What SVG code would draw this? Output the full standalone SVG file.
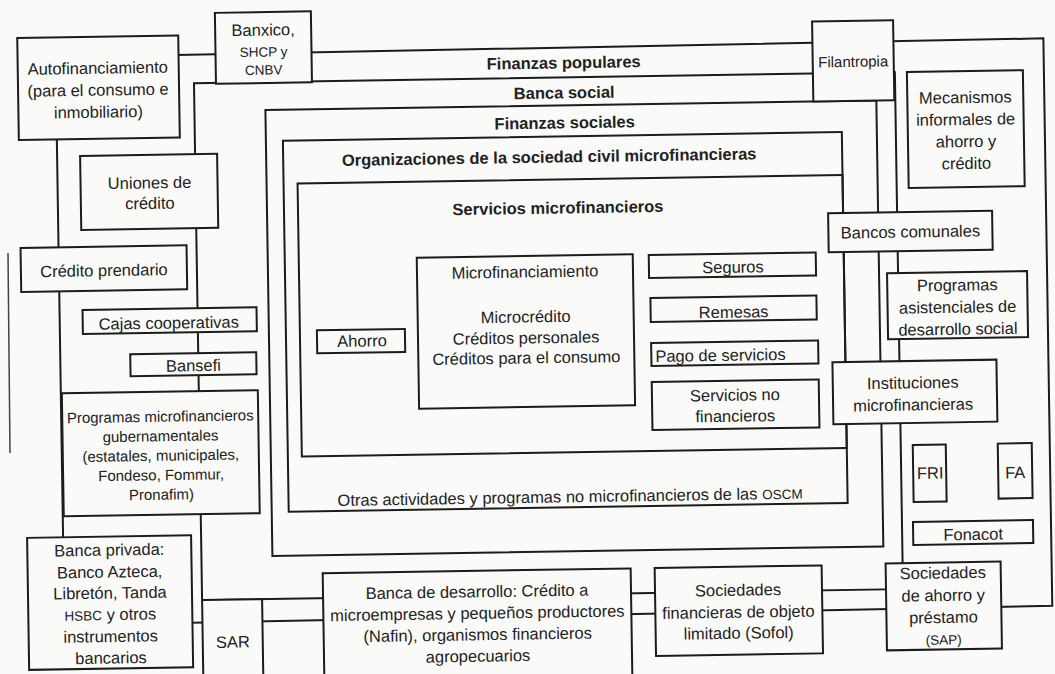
<svg xmlns="http://www.w3.org/2000/svg" width="1055" height="674" viewBox="0 0 1055 674">
<style>
.bg{fill:#fafaf8}
.box{fill:#fafaf8;stroke:#1c1c1c;stroke-width:2}
.frame{fill:none;stroke:#1c1c1c;stroke-width:2}
text{font-family:"Liberation Sans",Arial,Helvetica,sans-serif;font-size:16.5px;fill:#222;text-anchor:middle}
.b{font-weight:bold}
.sm{font-size:13.5px}
.m{font-size:15px}
.l{text-anchor:start}
</style>
<rect class="bg" width="1055" height="674"/>
<g id="scan-mark"><line x1="8" y1="253" x2="10" y2="453" stroke="#444" stroke-width="1.5"/></g>
<g transform="rotate(-0.9 527 337)">
  <g id="connectors">
    <path id="frame-finanzas-populares" class="frame" d="M60,50 L1048,46.5 L1048,614 L60,618 Z"/>
    <rect id="frame-banca-social" class="frame" x="198" y="78" width="701" height="517"/>
    <rect id="frame-finanzas-sociales" class="frame" x="269" y="106" width="611" height="446"/>
    <rect id="frame-oscm" class="frame" x="286" y="137" width="559" height="371"/>
    <rect id="frame-servicios" class="frame" x="300" y="180" width="545" height="273"/>
  </g>
  <g id="label-finanzas-populares"><text class="b" x="568" y="69">Finanzas populares</text></g>
  <g id="label-banca-social"><text class="b" x="568" y="99">Banca social</text></g>
  <g id="label-finanzas-sociales"><text class="b" x="568" y="129">Finanzas sociales</text></g>
  <g id="label-oscm"><text class="b" x="552" y="163">Organizaciones de la sociedad civil microfinancieras</text>
    <text x="567.5" y="503">Otras actividades y programas no microfinancieros de las <tspan class="sm">OSCM</tspan></text></g>
  <g id="label-servicios"><text class="b" x="560" y="214">Servicios microfinancieros</text></g>

  <g id="autofinanciamiento"><rect class="box" x="22" y="30" width="161" height="102"/>
    <text x="102" y="67">Autofinanciamiento</text><text x="102" y="89">(para el consumo e</text><text x="102" y="111">inmobiliario)</text></g>
  <g id="banxico"><rect class="box" x="220" y="8" width="96" height="71"/>
    <text x="268" y="31.5">Banxico,</text><text class="sm" x="268" y="52.5">SHCP y</text><text class="sm" x="268" y="70.5">CNBV</text></g>
  <g id="filantropia"><rect class="box" x="817" y="26" width="81" height="80"/>
    <text class="m" x="857.5" y="72">Filantropia</text></g>
  <g id="mecanismos"><rect class="box" x="911" y="78" width="116" height="116"/>
    <text x="969" y="110">Mecanismos</text><text x="969" y="132">informales de</text><text x="969" y="154">ahorro y</text><text x="969" y="176">crédito</text></g>
  <g id="uniones"><rect class="box" x="83" y="149" width="137" height="74"/>
    <text x="152" y="182.5">Uniones de</text><text x="152" y="203">crédito</text></g>
  <g id="bancos-comunales"><rect class="box" x="830" y="218" width="164" height="39"/>
    <text x="912" y="243.5">Bancos comunales</text></g>
  <g id="credito-prendario"><rect class="box" x="22" y="240" width="166" height="44"/>
    <text x="105" y="269.5">Crédito prendario</text></g>
  <g id="programas-asistenciales"><rect class="box" x="888" y="279" width="140" height="66"/>
    <text x="958" y="297.5">Programas</text><text x="958" y="319.5">asistenciales de</text><text x="958" y="341.5">desarrollo social</text></g>
  <g id="microfinanciamiento"><rect class="box" x="418" y="256" width="216" height="151"/>
    <text x="526" y="277.5">Microfinanciamiento</text><text x="526" y="322.5">Microcrédito</text><text x="526" y="343.5">Créditos personales</text><text x="526" y="363.5">Créditos para el consumo</text></g>
  <g id="seguros"><rect class="box" x="650" y="257" width="167" height="23"/><text x="734" y="276">Seguros</text></g>
  <g id="remesas"><rect class="box" x="651" y="300" width="166" height="24"/><text x="734" y="321">Remesas</text></g>
  <g id="pago-servicios"><rect class="box" x="651" y="345" width="167" height="23"/><text class="l" x="655" y="364">Pago de servicios</text></g>
  <g id="servicios-no-financieros"><rect class="box" x="651" y="384" width="167" height="48"/>
    <text x="734" y="404">Servicios no</text><text x="734" y="425">financieros</text></g>
  <g id="ahorro"><rect class="box" x="317" y="327" width="88" height="23"/><text x="362" y="344">Ahorro</text></g>
  <g id="cajas"><rect class="box" x="83" y="303" width="174" height="24"/><text x="169" y="323">Cajas cooperativas</text></g>
  <g id="bansefi"><rect class="box" x="130" y="348" width="126" height="22"/><text x="193" y="366">Bansefi</text></g>
  <g id="instituciones"><rect class="box" x="832" y="367" width="164" height="62"/>
    <text x="912" y="394.5">Instituciones</text><text x="912" y="416.5">microfinancieras</text></g>
  <g id="programas-gubernamentales"><rect class="box" x="61" y="386" width="196" height="123"/>
    <text class="m" x="159" y="416">Programas microfinancieros</text><text class="m" x="159" y="435.5">gubernamentales</text><text class="m" x="159" y="455">(estatales, municipales,</text><text class="m" x="159" y="474.5">Fondeso, Fommur,</text><text class="m" x="159" y="494">Pronafim)</text></g>
  <g id="fri"><rect class="box" x="911" y="451" width="33" height="57"/><text x="928" y="485">FRI</text></g>
  <g id="fa"><rect class="box" x="996" y="451" width="34" height="55"/><text x="1013" y="486">FA</text></g>
  <g id="fonacot"><rect class="box" x="910" y="528" width="120" height="23"/><text x="970" y="547">Fonacot</text></g>
  <g id="banca-privada"><rect class="box" x="24" y="530" width="164" height="132"/>
    <text x="106" y="549">Banca privada:</text><text x="106" y="571">Banco Azteca,</text><text x="106" y="592">Libretón, Tanda</text><text x="106" y="613.5"><tspan class="sm">HSBC</tspan> y otros</text><text x="106" y="635.5">instrumentos</text><text x="106" y="657">bancarios</text></g>
  <g id="sar"><rect class="box" x="198" y="595" width="60" height="100"/><text x="228" y="643">SAR</text></g>
  <g id="banca-desarrollo"><rect class="box" x="319" y="570" width="308" height="120"/>
    <text x="473" y="596.5">Banca de desarrollo: Crédito a</text><text x="473" y="618">microempresas y pequeños productores</text><text x="473" y="639.5">(Nafin), organismos financieros</text><text x="473" y="661">agropecuarios</text></g>
  <g id="sofol"><rect class="box" x="651" y="570" width="167" height="88"/>
    <text x="734" y="599">Sociedades</text><text x="734" y="621">financieras de objeto</text><text x="734" y="642">limitado (Sofol)</text></g>
  <g id="sap"><rect class="box" x="882" y="569" width="115" height="87"/>
    <text x="939" y="585">Sociedades</text><text x="939" y="607.5">de ahorro y</text><text x="939" y="629.5">préstamo</text><text class="sm" x="939" y="651">(SAP)</text></g>
</g>
</svg>
